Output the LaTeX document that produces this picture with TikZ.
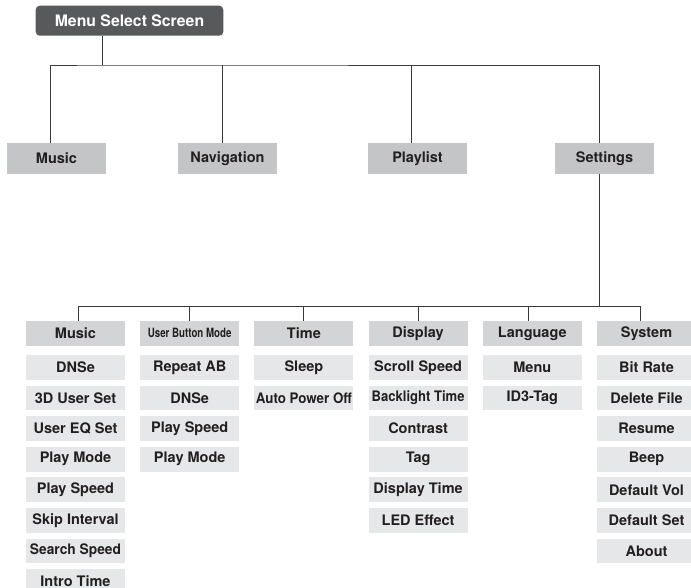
\documentclass[tikz,border=0pt]{standalone}
\usepackage{fontspec}
\setmainfont{TeX Gyre Heros}
\usetikzlibrary{positioning}

\definecolor{menugray}{HTML}{58595B}
\definecolor{topgray}{HTML}{C4C5C7}
\definecolor{headgray}{HTML}{D3D4D5}
\definecolor{itemgray}{HTML}{E6E7E8}
\definecolor{inkdark}{HTML}{231F20}
\definecolor{linegray}{HTML}{3A3A3A}

\begin{document}
\begin{tikzpicture}[
  x=1pt, y=1pt,
  menubox/.style={fill=menugray, rounded corners=4pt, text=white, minimum width=187.6pt, minimum height=30pt, inner sep=0pt, font=\fontsize{15.8}{18}\selectfont\bfseries},
  topbox/.style={fill=topgray, text=inkdark, minimum width=99pt, minimum height=31pt, inner sep=0pt, font=\fontsize{14.5}{17}\selectfont\bfseries},
  headbox/.style={topbox, fill=headgray, minimum height=24.7pt},
  itembox/.style={headbox, fill=itemgray},
  link/.style={draw=linegray, line width=1pt},
  node distance=5.5pt
]
  \useasboundingbox (0,0) rectangle (691,-587);

  % top level
  \node[menubox] (menu) at (129.5,-20.7) {Menu Select Screen};

  \node[topbox] (music) at (56.5,-158.6) {Music};
  \node[topbox] (navigation) at (227.5,-158.6) {Navigation};
  \node[topbox] (playlist) at (417.5,-158.6) {Playlist};
  \node[topbox] (settings) at (604.5,-158.6) {Settings};

  % settings columns
  \node[headbox] (cmusic) at (75.5,-333.3) {Music};
  \node[headbox, right=14.8pt of cmusic] (cbutton) {\scalebox{0.67}[0.88]{User Button Mode}};
  \node[headbox, right=14.8pt of cbutton] (ctime) {Time};
  \node[headbox, right=14.8pt of ctime] (cdisplay) {Display};
  \node[headbox, right=14.8pt of cdisplay] (clanguage) {Language};
  \node[headbox, right=14.8pt of clanguage] (csystem) {System};

  \node[itembox, below=9pt of cmusic] (music1) {DNSe};
  \node[itembox, below=of music1] (music2) {3D User Set};
  \node[itembox, below=of music2] (music3) {User EQ Set};
  \node[itembox, below=of music3] (music4) {Play Mode};
  \node[itembox, below=of music4] (music5) {Play Speed};
  \node[itembox, below=of music5] (music6) {Skip Interval};
  \node[itembox, below=of music6] (music7) {\scalebox{0.95}[1]{Search Speed}};
  \node[itembox, below=of music7] (music8) {Intro Time};

  \node[itembox, below=9pt of cbutton] (button1) {Repeat AB};
  \node[itembox, below=of button1] (button2) {DNSe};
  \node[itembox, below=of button2] (button3) {Play Speed};
  \node[itembox, below=of button3] (button4) {Play Mode};

  \node[itembox, below=9pt of ctime] (time1) {Sleep};
  \node[itembox, below=of time1] (time2) {\scalebox{0.92}[1]{Auto Power Off}};

  \node[itembox, below=9pt of cdisplay] (display1) {Scroll Speed};
  \node[itembox, below=of display1] (display2) {\scalebox{0.9}[1]{Backlight Time}};
  \node[itembox, below=of display2] (display3) {Contrast};
  \node[itembox, below=of display3] (display4) {Tag};
  \node[itembox, below=of display4] (display5) {Display Time};
  \node[itembox, below=of display5] (display6) {LED Effect};

  \node[itembox, below=9pt of clanguage] (language1) {Menu};
  \node[itembox, below=of language1] (language2) {ID3-Tag};

  \node[itembox, below=9pt of csystem] (system1) {Bit Rate};
  \node[itembox, below=of system1] (system2) {Delete File};
  \node[itembox, below=of system2] (system3) {Resume};
  \node[itembox, below=of system3] (system4) {Beep};
  \node[itembox, below=of system4] (system5) {Default Vol};
  \node[itembox, below=of system5] (system6) {Default Set};
  \node[itembox, below=of system6] (system7) {About};

  % connectors
  \coordinate (bus1) at (102.7,-65);
  \draw[link] (menu.south -| bus1) -- (bus1);
  \draw[link] ([xshift=-6.5pt]music.north) |- (bus1) -| ([xshift=-5.5pt]settings.north);
  \draw[link] ([xshift=-5.5pt]navigation.north) -- ([xshift=-5.5pt]navigation.north |- bus1);
  \draw[link] ([xshift=-6.5pt]playlist.north) -- ([xshift=-6.5pt]playlist.north |- bus1);

  \draw[link] ([xshift=-5.5pt]settings.south) -- ++(0,-132) coordinate (bus2);
  \draw[link] ([xshift=2.5pt]cmusic.north) |- (bus2) -| ([xshift=-6pt]csystem.north);
  \draw[link] (cbutton.north) -- (cbutton.north |- bus2);
  \draw[link] (ctime.north) -- (ctime.north |- bus2);
  \draw[link] (cdisplay.north) -- (cdisplay.north |- bus2);
  \draw[link] ([xshift=-4pt]clanguage.north) -- ([xshift=-4pt]clanguage.north |- bus2);
\end{tikzpicture}
\end{document}
